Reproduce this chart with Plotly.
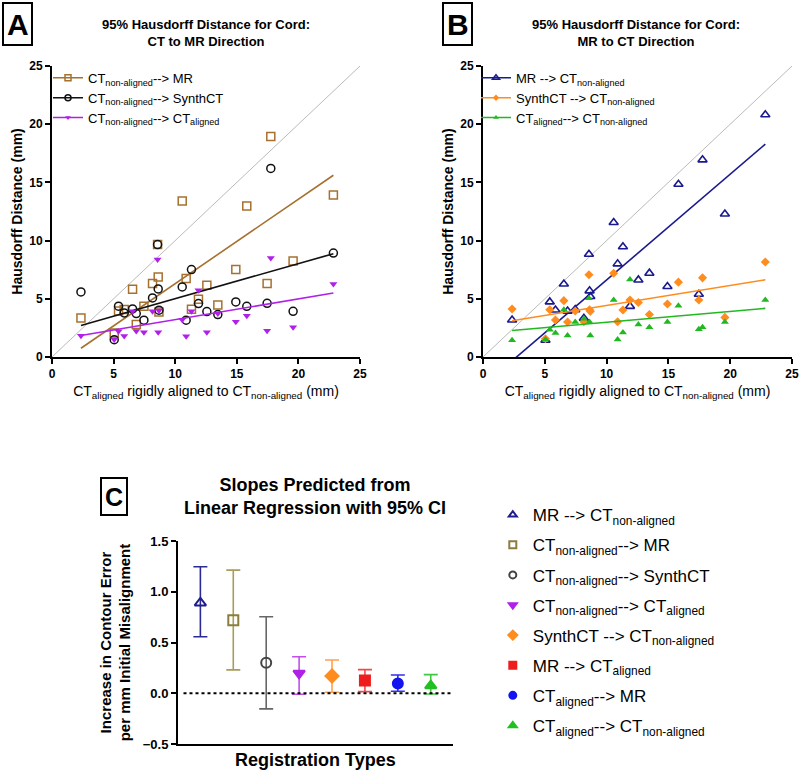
import plotly.graph_objects as go

FONT = "Arial, Liberation Sans, sans-serif"

# initial misalignment, CT_aligned vs CT_non-aligned (mm), same patients in A and B
misalign = [2.35, 5.05, 5.4, 5.86, 6.54, 6.84, 7.46, 8.16, 8.57, 8.62, 8.68,
            10.57, 10.89, 11.32, 11.89, 12.57, 13.46, 14.92, 15.81, 17.46,
            17.76, 19.57, 22.84]

# panel A: CT to MR direction (95% HD, mm)
ctna_to_mr = [3.34, 2.07, 3.96, 4.07, 5.82, 2.78, 4.36, 6.31, 9.66, 6.88, 3.87,
              13.4, 6.74, 4.1, 4.96, 6.17, 4.47, 7.52, 12.97, 6.31, 18.95, 8.24, 13.92]
ctna_to_synth = [5.59, 1.49, 4.36, 3.78, 4.13, 3.73, 3.16, 5.07, 9.66, 5.85, 4.02,
                 6.02, 3.16, 7.51, 4.59, 3.9, 3.64, 4.73, 4.35, 4.61, 16.2, 3.92, 8.93]
ctna_to_cta = [1.82, 1.5, 2.21, 1.81, 3.93, 2.24, 2.12, 3.93, 8.37, 2.12, 4.0,
               3.2, 1.78, 3.93, 5.73, 2.12, 3.73, 3.03, 3.55, 2.25, 8.5, 2.56, 6.28]

# panel B: MR to CT direction (95% HD, mm)
mr_to_ctna = [3.17, 1.44, 4.73, 4.04, 6.27, 3.94, 4.07, 3.33, 8.82, 5.68, 5.2,
              11.56, 8.0, 9.47, 4.35, 6.62, 7.2, 6.05, 14.84, 5.39, 16.94, 12.28, 20.81]
synth_to_ctna = [4.12, 1.56, 4.06, 3.17, 4.84, 3.0, 3.95, 3.03, 7.06, 4.06, 3.92,
                 7.2, 3.03, 4.04, 4.9, 4.68, 3.65, 4.55, 6.43, 4.9, 6.8, 3.4, 8.16]
cta_to_ctna = [1.44, 1.5, 2.33, 2.07, 4.06, 1.84, 3.0, 3.29, 5.04, 3.0, 1.84,
               4.9, 1.5, 2.1, 6.66, 2.8, 2.56, 3.0, 4.41, 2.39, 2.56, 3.0, 4.9]

# regression lines as drawn (slope, intercept)
slope_a = [0.7255, 0.301, 0.1786]
icept_a = [-0.955, 2.0, 1.42]
slope_b = [0.909, 0.1718, 0.0927]
icept_b = [-2.47, 2.706, 2.062]

# panel C: slopes with 95% CI
reg_types = ["MR --> CT<sub>non-aligned</sub>",
             "CT<sub>non-aligned</sub>--> MR",
             "CT<sub>non-aligned</sub>--> SynthCT",
             "CT<sub>non-aligned</sub>--> CT<sub>aligned</sub>",
             "SynthCT --> CT<sub>non-aligned</sub>",
             "MR --> CT<sub>aligned</sub>",
             "CT<sub>aligned</sub>--> MR",
             "CT<sub>aligned</sub>--> CT<sub>non-aligned</sub>"]
slopes = [0.89, 0.72, 0.30, 0.197, 0.17, 0.125, 0.095, 0.075]
ci_low = [0.557, 0.23, -0.154, -0.01, 0.01, 0.016, 0.02, -0.007]
ci_high = [1.246, 1.213, 0.754, 0.36, 0.328, 0.233, 0.18, 0.184]


fig = go.Figure()

x_lo, x_hi = misalign[0], misalign[-1]


def add_panel(xa, ya, legend, series, slopes_, icepts_):
    # identity line
    fig.add_trace(go.Scatter(x=[0, 25], y=[0, 25], mode="lines",
                             line=dict(color="#a8a8a8", width=0.8),
                             xaxis=xa, yaxis=ya, showlegend=False, hoverinfo="skip"))
    for (name, ys, sym, size, col, lw), b, a in zip(series, slopes_, icepts_):
        fig.add_trace(go.Scatter(x=[x_lo, x_hi], y=[a + b * x_lo, a + b * x_hi],
                                 mode="lines", line=dict(color=col, width=1.6),
                                 xaxis=xa, yaxis=ya, showlegend=False))
        fig.add_trace(go.Scatter(x=misalign, y=ys, mode="markers", name=name,
                                 marker=dict(symbol=sym, size=size, color=col,
                                             line=dict(color=col, width=lw)),
                                 xaxis=xa, yaxis=ya, showlegend=False))
        # legend entry with line through the symbol
        fig.add_trace(go.Scatter(x=[None], y=[None], mode="lines+markers", name=name,
                                 marker=dict(symbol=sym, size=size - 2, color=col,
                                             line=dict(color=col, width=lw)),
                                 line=dict(color=col, width=1.5),
                                 xaxis=xa, yaxis=ya, legend=legend))


add_panel("x", "y", "legend", [
    ("CT<sub>non-aligned</sub>--> MR", ctna_to_mr, "square-open", 8, "#a6712f", 1.5),
    ("CT<sub>non-aligned</sub>--> SynthCT", ctna_to_synth, "circle-open", 8, "#111111", 1.5),
    ("CT<sub>non-aligned</sub>--> CT<sub>aligned</sub>", ctna_to_cta, "triangle-down", 7, "#b020e8", 0),
], slope_a, icept_a)

add_panel("x2", "y2", "legend2", [
    ("MR --> CT<sub>non-aligned</sub>", mr_to_ctna, "triangle-up-open", 8, "#1a1a8e", 1.6),
    ("SynthCT --> CT<sub>non-aligned</sub>", synth_to_ctna, "diamond", 7, "#ff8c1e", 0),
    ("CT<sub>aligned</sub>--> CT<sub>non-aligned</sub>", cta_to_ctna, "triangle-up", 7, "#22b822", 0),
], slope_b, icept_b)

# panel C
c_symbols = ["triangle-up-open", "square-open", "circle-open", "triangle-down",
             "diamond", "square", "circle", "triangle-up"]
c_colors = ["#1e1e8c", "#8c7d3c", "#444444", "#b020e8",
            "#ff8c1e", "#ee1c1c", "#1414f0", "#22c022"]
c_err = ["#2a2a96", "#a89c5a", "#666666", "#c050e8",
         "#ffa050", "#f04848", "#3030f0", "#40c840"]
for i, name in enumerate(reg_types):
    fig.add_trace(go.Scatter(
        x=[i], y=[slopes[i]], mode="markers", name=name, showlegend=False,
        marker=dict(symbol=c_symbols[i], size=10, color=c_colors[i],
                    line=dict(color=c_colors[i], width=2)),
        error_y=dict(type="data", symmetric=False,
                     array=[ci_high[i] - slopes[i]], arrayminus=[slopes[i] - ci_low[i]],
                     color=c_err[i], thickness=1.6, width=7),
        xaxis="x3", yaxis="y3"))
    fig.add_trace(go.Scatter(
        x=[None], y=[None], mode="markers", name=name,
        marker=dict(symbol=c_symbols[i], size=7, color=c_colors[i],
                    line=dict(color=c_colors[i], width=2)),
        xaxis="x3", yaxis="y3", legend="legend3", legendgroup=name))

fig.add_shape(type="line", xref="x3 domain", yref="y3", x0=0.02, x1=1, y0=0, y1=0,
              line=dict(color="black", width=2, dash="dot"))

axis_common = dict(showline=True, linecolor="black", linewidth=2, ticks="outside",
                   ticklen=5, tickwidth=2, tickcolor="black", showgrid=False,
                   zeroline=False, tickfont=dict(family=FONT, size=12, color="black", weight="bold"))

xtitle = "CT<sub>aligned</sub> rigidly aligned to CT<sub>non-aligned</sub> (mm)"
ytitle = "Hausdorff Distance (mm)"

fig.update_layout(
    width=800, height=775, margin=dict(l=0, r=0, t=0, b=0, autoexpand=False),
    plot_bgcolor="white", paper_bgcolor="white",
    font=dict(family=FONT, color="black"),
    xaxis=dict(domain=[0.065, 0.45], range=[0, 25], dtick=5, anchor="y",
               title=dict(text=xtitle, font=dict(size=14), standoff=6), **axis_common),
    yaxis=dict(domain=[0.5394, 0.9148], range=[0, 25], dtick=5, anchor="x",
               title=dict(text=ytitle, font=dict(size=14, weight="bold"), standoff=3), **axis_common),
    xaxis2=dict(domain=[0.6038, 0.99], range=[0, 25], dtick=5, anchor="y2",
                title=dict(text=xtitle, font=dict(size=14), standoff=6), **axis_common),
    yaxis2=dict(domain=[0.5394, 0.9148], range=[0, 25], dtick=5, anchor="x2",
                title=dict(text=ytitle, font=dict(size=14, weight="bold"), standoff=3), **axis_common),
    xaxis3=dict(domain=[0.2225, 0.566], range=[-0.68, 7.67], anchor="y3",
                showline=True, linecolor="black", linewidth=2, showticklabels=False,
                ticks="", showgrid=False, zeroline=False,
                title=dict(text="Registration Types", font=dict(size=18, weight="bold"), standoff=8)),
    yaxis3=dict(domain=[0.04, 0.3019], range=[-0.5, 1.5], dtick=0.5, tickformat=".1f", anchor="x3",
                title=dict(text="Increase in Contour Error<br>per mm Initial Misalignment",
                           font=dict(size=15, weight="bold"), standoff=8),
                **{**axis_common, "tickfont": dict(family=FONT, size=13, color="black", weight="bold")}),
    legend=dict(x=0.06, y=0.919, xanchor="left", yanchor="top", bgcolor="rgba(0,0,0,0)",
                font=dict(size=13), itemwidth=30),
    legend2=dict(x=0.595, y=0.919, xanchor="left", yanchor="top", bgcolor="rgba(0,0,0,0)",
                 font=dict(size=13), itemwidth=30),
    legend3=dict(x=0.616, y=0.3585, xanchor="left", yanchor="top", bgcolor="rgba(0,0,0,0)",
                 font=dict(size=17), itemwidth=30, tracegroupgap=5),
)

# panel titles
titles = [
    (206, 33, "95% Hausdorff Distance for Cord:<br>CT to MR Direction", 13),
    (636, 33, "95% Hausdorff Distance for Cord:<br>MR to CT Direction", 13),
    (315, 497, "Slopes Predicted from<br>Linear Regression with 95% CI", 18),
]
for x, y, text, size in titles:
    fig.add_annotation(x=x / 800, y=1 - y / 775, xref="paper", yref="paper", text=text,
                       xanchor="center", yanchor="middle",
                       showarrow=False, font=dict(size=size, weight="bold"))

# panel letters in boxes
for x0, y0, x1, y1, letter, size in [(3, 3, 32, 45, "A", 30), (443, 3, 472, 45, "B", 30),
                                      (101, 478, 127, 515, "C", 25)]:
    fig.add_shape(type="rect", xref="paper", yref="paper",
                  x0=x0 / 800, x1=x1 / 800, y0=1 - y0 / 775, y1=1 - y1 / 775,
                  line=dict(color="black", width=2))
    fig.add_annotation(x=(x0 + x1) / 1600, y=1 - (y0 + y1) / 1550, xref="paper", yref="paper",
                       text=letter, xanchor="center", yanchor="middle",
                       showarrow=False, font=dict(size=size, weight="bold"))

# no default page margin, so the 800x775 figure fills the window
fig.write_html("out.html", config={"displayModeBar": False},
               post_script="document.body.style.margin='0px';")
